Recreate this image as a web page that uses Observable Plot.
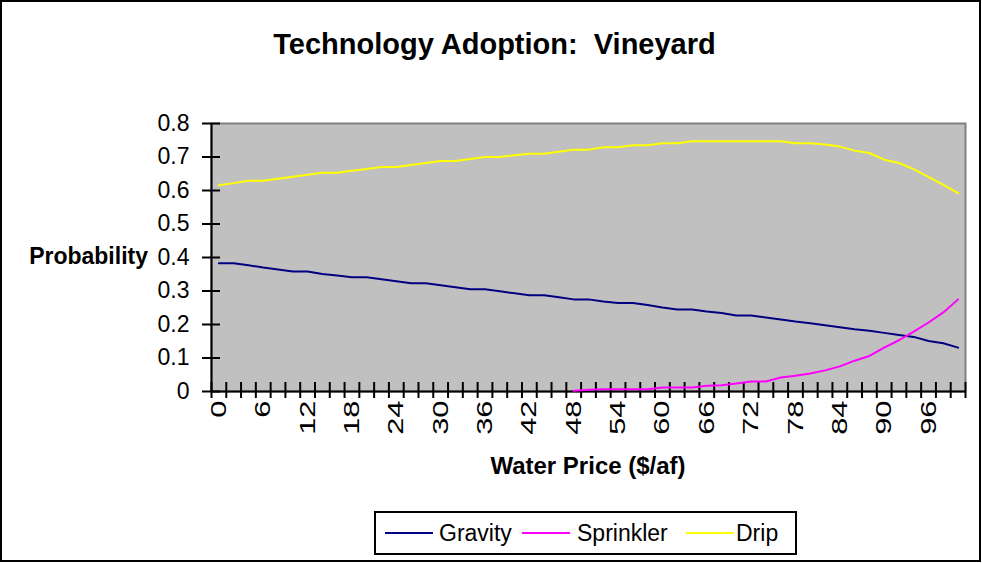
<!DOCTYPE html>
<html>
<head>
<meta charset="utf-8">
<script src="https://cdn.jsdelivr.net/npm/d3@7"></script>
<script src="https://cdn.jsdelivr.net/npm/@observablehq/plot@0.6"></script>
<style>
  html, body { margin: 0; padding: 0; background: #fff; }
  body { width: 982px; height: 563px; position: relative; overflow: hidden;
         font-family: "Liberation Sans", Arial, sans-serif; color: #000; }
  #chart { position: absolute; left: 0; top: 0; }
  .abs { position: absolute; white-space: pre; line-height: 1; }
  #outer { position: absolute; left: 0; top: 0; width: 981px; height: 562px;
           box-sizing: border-box; border: 2px solid #000; pointer-events: none; }
  #title { left: 0; width: 989px; top: 30px; text-align: center; font-size: 29px; font-weight: bold; }
  #ylabel { right: 834px; top: 245px; font-size: 23px; font-weight: bold; }
  #xlabel { left: 388px; width: 400px; top: 454px; text-align: center; font-size: 24px; font-weight: bold; }
  #legend { position: absolute; left: 374px; top: 511px; width: 423px; height: 44px;
            box-sizing: border-box; border: 2px solid #000; background: #fff; }
  .swatch { position: absolute; height: 2px; top: 532px; }
  .ltext { position: absolute; white-space: pre; line-height: 1; top: 522px; font-size: 23px; }
</style>
</head>
<body>
<div id="chart"></div>
<div id="outer"></div>
<div id="title" class="abs"></div>
<div id="ylabel" class="abs"></div>
<div id="xlabel" class="abs"></div>
<div id="legend"></div>
<div id="legendItems"></div>
<script>
// ---- data ----
const titleText = "Technology Adoption:  Vineyard";
const yTitle = "Probability";
const xTitle = "Water Price ($/af)";

const prices = [0, 2, 4, 6, 8, 10, 12, 14, 16, 18, 20, 22, 24, 26, 28, 30, 32, 34, 36, 38,
  40, 42, 44, 46, 48, 50, 52, 54, 56, 58, 60, 62, 64, 66, 68, 70, 72, 74, 76, 78,
  80, 82, 84, 86, 88, 90, 92, 94, 96, 98, 100];

const gravity = [0.383, 0.383, 0.377, 0.370, 0.364, 0.358, 0.358, 0.351, 0.346, 0.341,
  0.341, 0.335, 0.329, 0.323, 0.323, 0.317, 0.311, 0.305, 0.305, 0.299,
  0.293, 0.287, 0.287, 0.281, 0.275, 0.275, 0.269, 0.264, 0.264, 0.258,
  0.251, 0.245, 0.245, 0.239, 0.234, 0.227, 0.227, 0.221, 0.215, 0.209,
  0.204, 0.198, 0.192, 0.186, 0.181, 0.175, 0.169, 0.163, 0.151, 0.144, 0.131];

const sprinkler = [null, null, null, null, null, null, null, null, null, null,
  null, null, null, null, null, null, null, null, null, null,
  null, null, null, null, 0.002, 0.005, 0.007, 0.007, 0.007, 0.007,
  0.012, 0.012, 0.012, 0.017, 0.019, 0.024, 0.030, 0.030, 0.042, 0.047,
  0.054, 0.063, 0.075, 0.092, 0.106, 0.131, 0.153, 0.179, 0.206, 0.236, 0.275];

const drip = [0.616, 0.622, 0.629, 0.629, 0.635, 0.641, 0.647, 0.653, 0.653, 0.659,
  0.664, 0.670, 0.670, 0.676, 0.682, 0.688, 0.688, 0.694, 0.700, 0.700,
  0.705, 0.710, 0.710, 0.716, 0.722, 0.722, 0.729, 0.729, 0.735, 0.735,
  0.741, 0.741, 0.747, 0.747, 0.747, 0.747, 0.747, 0.747, 0.747, 0.741,
  0.741, 0.737, 0.731, 0.719, 0.712, 0.692, 0.682, 0.664, 0.641, 0.617, 0.592];

const seriesNames = ["Gravity", "Sprinkler", "Drip"];
const seriesColors = ["#000080", "#ff00ff", "#ffff00"];

const yTicks = [0, 0.1, 0.2, 0.3, 0.4, 0.5, 0.6, 0.7, 0.8];
const xTickLabels = [0, 6, 12, 18, 24, 30, 36, 42, 48, 54, 60, 66, 72, 78, 84, 90, 96];

// ---- build ----
const rows = prices.map((p, i) => ({price: p, gravity: gravity[i], sprinkler: sprinkler[i], drip: drip[i]}));
// category boundaries (ticks sit between categories, like a category axis)
const boundaries = [...prices.map(p => p - 1), prices[prices.length - 1] + 1];

const chart = Plot.plot({
  width: 982,
  height: 563,
  marginLeft: 211,
  marginRight: 17,
  marginTop: 123,
  marginBottom: 172,
  x: {domain: [boundaries[0], boundaries[boundaries.length - 1]], axis: null, label: null},
  y: {domain: [0, 0.8], axis: null, label: null},
  style: {fontFamily: "'Liberation Sans', Arial, sans-serif", fontSize: "22px", color: "#000", background: "transparent"},
  marks: [
    Plot.frame({fill: "#c0c0c0", stroke: "#808080", strokeWidth: 2}),
    Plot.ruleY([0], {stroke: "#000", strokeWidth: 2}),
    Plot.ruleX([boundaries[0]], {stroke: "#000", strokeWidth: 2}),
    Plot.axisY(yTicks, {tickSize: 18, dx: 9, tickPadding: 13, tickFormat: d => String(d),
      fontSize: 23, strokeWidth: 2, stroke: "#000", label: null}),
    Plot.axisX(boundaries, {tickSize: 16, dy: -9, tickFormat: () => "", strokeWidth: 2, stroke: "#000", label: null}),
    Plot.axisX(xTickLabels, {tickSize: 0, tickPadding: 9, tickRotate: -90, fontSize: 22, label: null,
      ariaLabel: "x-tick-labels"}),
    Plot.line(rows, {x: "price", y: "drip", stroke: seriesColors[2], strokeWidth: 2}),
    Plot.line(rows, {x: "price", y: "gravity", stroke: seriesColors[0], strokeWidth: 2}),
    Plot.line(rows, {x: "price", y: "sprinkler", stroke: seriesColors[1], strokeWidth: 2})
  ]
});
document.getElementById("chart").appendChild(chart);

// the reference renders the rotated tick labels elongated along their baseline
chart.querySelectorAll("text").forEach(t => {
  const tr = t.getAttribute("transform") || "";
  if (tr.includes("rotate(-90")) t.setAttribute("transform", tr + " scale(1.4,1)");
});

document.getElementById("title").textContent = titleText;
document.getElementById("ylabel").textContent = yTitle;
document.getElementById("xlabel").textContent = xTitle;

// legend
const swatchLeft = [385, 522, 686];
const textLeft = [439, 577, 736];
const items = document.getElementById("legendItems");
seriesNames.forEach((name, i) => {
  const sw = document.createElement("div");
  sw.className = "swatch";
  sw.style.left = swatchLeft[i] + "px";
  sw.style.width = "48px";
  sw.style.background = seriesColors[i];
  items.appendChild(sw);
  const t = document.createElement("div");
  t.className = "ltext";
  t.style.left = textLeft[i] + "px";
  t.textContent = name;
  items.appendChild(t);
});
</script>
</body>
</html>
